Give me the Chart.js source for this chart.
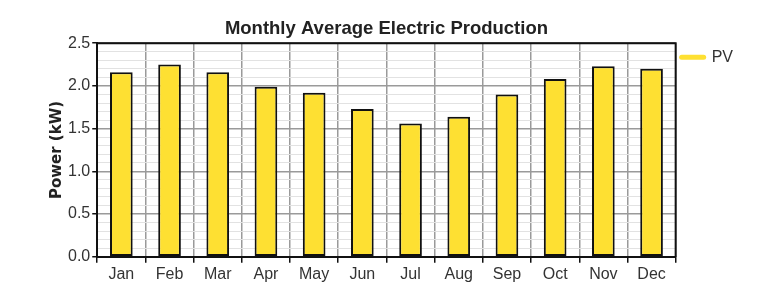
<!DOCTYPE html>
<html>
<head>
<meta charset="utf-8">
<script src="https://cdn.jsdelivr.net/npm/chart.js@4"></script>
<style>
  html, body { margin: 0; padding: 0; background: #fff; }
  #wrap { width: 762px; height: 300px; }
</style>
</head>
<body>
<div id="wrap"><canvas id="pvChart" width="762" height="300"></canvas></div>
<script>
// Chart data
const months = ['Jan', 'Feb', 'Mar', 'Apr', 'May', 'Jun', 'Jul', 'Aug', 'Sep', 'Oct', 'Nov', 'Dec'];
const pvPower = [2.16, 2.25, 2.16, 1.99, 1.92, 1.73, 1.56, 1.64, 1.90, 2.08, 2.23, 2.20];
const seriesName = 'PV';
const chartTitle = 'Monthly Average Electric Production';
const yTitle = 'Power (kW)';

const barYellow = '#FEE032';

// Black frame on top and right of the plot area
const frame = {
    id: 'frame',
    afterDatasetsDraw(chart) {
        const { ctx, chartArea: a } = chart;
        ctx.save();
        ctx.strokeStyle = '#111';
        ctx.lineWidth = 2;
        ctx.beginPath();
        ctx.moveTo(a.left, a.top);
        ctx.lineTo(a.right, a.top);
        ctx.lineTo(a.right, a.bottom);
        ctx.stroke();
        ctx.restore();
    }
};

const isMajor = v => Math.abs(v * 2 - Math.round(v * 2)) < 1e-6;

const ctx = document.getElementById('pvChart').getContext('2d');

new Chart(ctx, {
    type: 'bar',
    data: {
        labels: months,
        datasets: [{
            label: seriesName,
            data: pvPower,
            backgroundColor: barYellow,
            borderColor: '#111',
            borderWidth: 2,
            borderSkipped: false,
            barPercentage: 0.47,
            categoryPercentage: 1
        }]
    },
    options: {
        responsive: false,
        animation: false,
        layout: {
            padding: { left: 48, right: 19, top: 0, bottom: 14 }
        },
        plugins: {
            title: {
                display: true,
                fullSize: false,
                text: chartTitle,
                color: '#222',
                font: { family: '"Liberation Sans", Arial', size: 18.5, weight: 'bold' },
                padding: { top: 18, bottom: 3 }
            },
            legend: {
                position: 'right',
                align: 'start',
                fullSize: false,
                labels: {
                    usePointStyle: true,
                    pointStyleWidth: 22,
                    padding: 6,
                    color: '#333',
                    font: { family: '"Liberation Sans", Arial', size: 16 },
                    generateLabels: () => [{
                        text: seriesName,
                        fillStyle: barYellow,
                        strokeStyle: barYellow,
                        lineWidth: 5,
                        lineCap: 'round',
                        pointStyle: 'line',
                        fontColor: '#333',
                        hidden: false,
                        datasetIndex: 0
                    }]
                }
            },
            tooltip: { enabled: false }
        },
        scales: {
            x: {
                grid: {
                    offset: true,
                    color: '#9a9a9a',
                    lineWidth: 1.5,
                    tickColor: '#111',
                    tickLength: 6
                },
                border: { color: '#111', width: 2 },
                ticks: {
                    color: '#333',
                    padding: 2,
                    font: { family: '"Liberation Sans", Arial', size: 16 }
                }
            },
            y: {
                min: 0,
                max: 2.5,
                title: {
                    display: true,
                    text: yTitle,
                    color: '#222',
                    font: { family: '"DejaVu Sans", Verdana', size: 15, weight: 'bold' },
                    padding: { top: 0, bottom: 0 }
                },
                grid: {
                    color: c => isMajor(c.tick.value) ? '#9a9a9a' : '#e2e2e2',
                    lineWidth: c => isMajor(c.tick.value) ? 1.5 : 1,
                    tickColor: c => isMajor(c.tick.value) ? '#111' : 'rgba(0,0,0,0)',
                    tickLength: 5
                },
                border: { color: '#111', width: 2 },
                ticks: {
                    stepSize: 0.1,
                    autoSkip: false,
                    color: '#333',
                    padding: 2,
                    font: { family: '"Liberation Sans", Arial', size: 16 },
                    callback: v => isMajor(v) ? v.toFixed(1) : ''
                }
            }
        }
    },
    plugins: [frame]
});
</script>
</body>
</html>
